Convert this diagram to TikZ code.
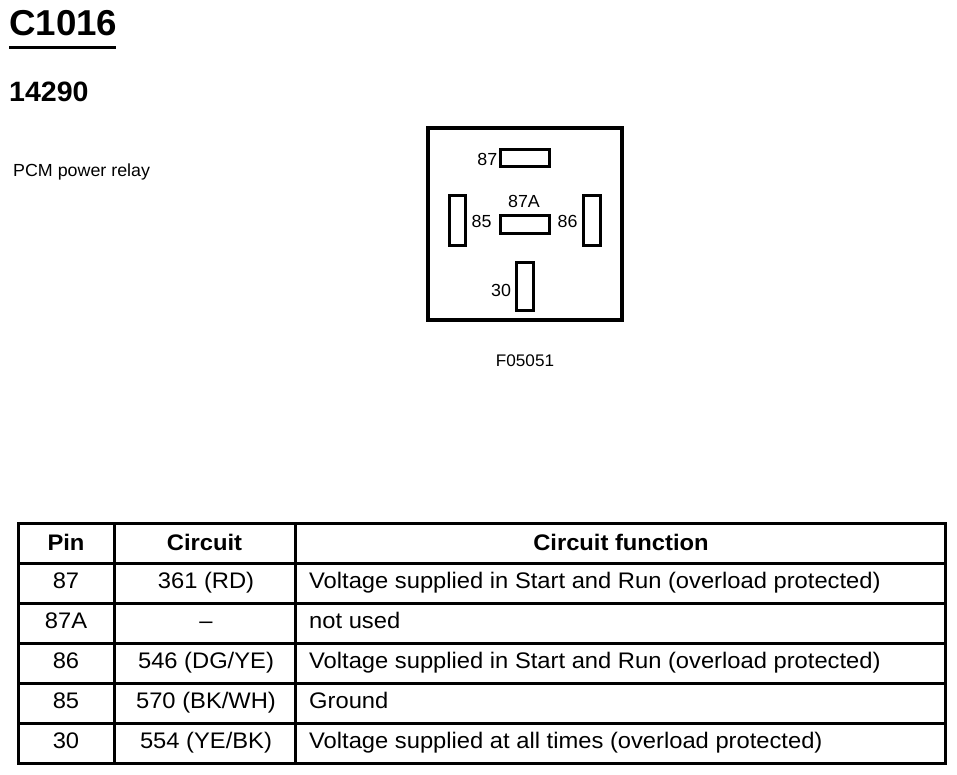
\documentclass[tikz,border=0pt]{standalone}
\usepackage{fontspec}
\setmainfont{Liberation Sans}[FakeStretch=1.02]
\newfontfamily\tabfont{Liberation Sans}[FakeStretch=1.055]
\begin{document}
\begin{tikzpicture}[x=1pt,y=-1pt,
  lbl/.style={inner sep=0pt, font=\fontsize{17.5}{20}\selectfont},
  cell/.style={inner sep=0pt, anchor=base, font=\tabfont\fontsize{22.5}{26}\selectfont},
  celll/.style={inner sep=0pt, anchor=base west, font=\tabfont\fontsize{22.5}{26}\selectfont},
  head/.style={inner sep=0pt, anchor=base, font=\tabfont\fontsize{22.5}{26}\selectfont\bfseries},
  pinbox/.style={draw, line width=3pt, inner sep=0pt, rectangle},
  grid/.style={line width=3pt},
]
\useasboundingbox (0,0) rectangle (957,775);
% titles
\node[anchor=base west, inner sep=0pt, font=\fontsize{36}{40}\selectfont\bfseries] (title) at (9,36) {C1016};
\coordinate (ul1) at (9,47.5);
\coordinate (ul2) at (116,47.5);
\draw[line width=3pt] (ul1) -- (ul2);
\node[anchor=base west, inner sep=0pt, font=\fontsize{28}{32}\selectfont\bfseries] (num) at (9,102) {14290};
\node[lbl, anchor=base west] (desc) at (13,177) {PCM power relay};
% relay
\node[draw, line width=3.5pt, minimum width=194pt, minimum height=192pt, inner sep=0pt] (relay) at (525,224) {};
\node[pinbox, minimum width=49pt, minimum height=17.5pt] (p87) at (525,158.25) {};
\node[pinbox, minimum width=49pt, minimum height=18pt] (p87a) at (525,224.7) {};
\node[pinbox, minimum width=15.6pt, minimum height=50pt] (p85) at (457.5,220.3) {};
\node[pinbox, minimum width=16.6pt, minimum height=50pt] (p86) at (592,220.3) {};
\node[pinbox, minimum width=17.4pt, minimum height=48pt] (p30) at (525,286.3) {};
\node[lbl, anchor=base east] (l87) at (497.5,165.7) {87};
\node[lbl, anchor=base] (l87a) at (524,207.5) {87A};
\node[lbl, anchor=base] (l85) at (481.5,227.3) {85};
\node[lbl, anchor=base] (l86) at (567.5,227.3) {86};
\node[lbl, anchor=base] (l30) at (501,296.6) {30};
\node[inner sep=0pt, anchor=base, font=\fontsize{16.8}{20}\selectfont] (fig) at (525,366.7) {F05051};
% table grid
\coordinate (tl) at (18,523);
\coordinate (br) at (945,763);
\draw[grid] (tl) rectangle (br);
\foreach \y in {563,603,643,683,723} {\draw[grid] (18,\y) -- (945,\y);}
\draw[grid] (114,523) -- (114,763);
\draw[grid] (295,523) -- (295,763);
% header
\node[head] (hpin) at (66,550.5) {Pin};
\node[head] (hcir) at (204.5,550.5) {Circuit};
\node[head] (hfun) at (621,550.5) {Circuit function};
% rows
\node[cell] (r1a) at (66,588.5) {87};
\node[cell] (r1b) at (206,588.5) {361 (RD)};
\node[celll] (r1c) at (309,588.5) {Voltage supplied in Start and Run (overload protected)};
\node[cell] (r2a) at (66,628.5) {87A};
\node[cell] (r2b) at (206,628.5) {–};
\node[celll] (r2c) at (309,628.5) {not used};
\node[cell] (r3a) at (66,668.5) {86};
\node[cell] (r3b) at (206,668.5) {546 (DG/YE)};
\node[celll] (r3c) at (309,668.5) {Voltage supplied in Start and Run (overload protected)};
\node[cell] (r4a) at (66,708.5) {85};
\node[cell] (r4b) at (206,708.5) {570 (BK/WH)};
\node[celll] (r4c) at (309,708.5) {Ground};
\node[cell] (r5a) at (66,748.5) {30};
\node[cell] (r5b) at (206,748.5) {554 (YE/BK)};
\node[celll] (r5c) at (309,748.5) {Voltage supplied at all times (overload protected)};
\end{tikzpicture}
\end{document}
